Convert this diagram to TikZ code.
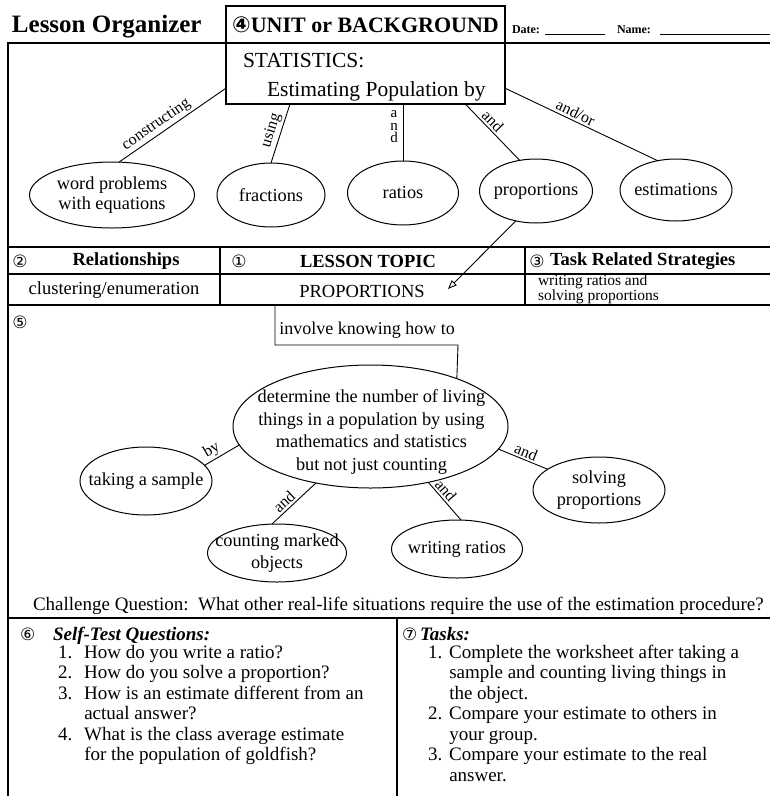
\documentclass[tikz,border=0pt]{standalone}
\usepackage{fontspec}
\setmainfont{Liberation Serif}
\newfontfamily\symf{DejaVu Sans}
\usetikzlibrary{shapes.geometric,arrows.meta}
\newcommand\circd[1]{{\symf #1}}
\begin{document}
\begin{tikzpicture}[x=1pt,y=1pt,
  every node/.style={inner sep=0pt, outer sep=0pt},
  frame/.style={line width=2pt},
  gridline/.style={line width=1.4pt},
  conn/.style={line width=0.9pt},
  ovalshape/.style={draw, ellipse, line width=1pt, inner sep=0pt},
  ovaltext/.style={align=center, font=\fontsize{18.3}{20}\selectfont},
  lab/.style={font=\fontsize{16}{16}\selectfont, sloped, above, inner sep=2.5pt},
  body/.style={font=\fontsize{19}{21}\selectfont},
  head/.style={font=\bfseries\fontsize{18.5}{21}\selectfont},
  unitbox/.style={draw, line width=2.2pt, fill=white, minimum width=279pt},
  digit/.style={font=\fontsize{17}{18}\selectfont},
]
\useasboundingbox (0,0) rectangle (770,-796);

% ---------- header line ----------
\node[anchor=base west, font=\bfseries\fontsize{25}{27}\selectfont] (title) at (12,-32) {Lesson Organizer};
\node[anchor=base west, font=\bfseries\fontsize{12}{13}\selectfont] (datel) at (512,-33) {Date:};
\node[anchor=base west, font=\bfseries\fontsize{12}{13}\selectfont] (namel) at (617,-33) {Name:};
\draw[line width=0.6pt] (545,-34) -- (605,-34);
\draw[line width=0.6pt] (660,-34) -- (770,-34);

% ---------- frame ----------
\draw[frame] (770,-43) -- (8,-43) -- (8,-796);
\draw[gridline] (8,-247) -- (770,-247);
\draw[gridline] (8,-274) -- (770,-274);
\draw[gridline] (8,-305) -- (770,-305);
\draw[gridline] (220,-247) -- (220,-305);
\draw[gridline] (525,-247) -- (525,-305);
\draw[gridline] (8,-618) -- (770,-618);
\draw[gridline] (397,-618) -- (397,-796);

% ---------- unit box ----------
\node[unitbox, minimum height=37pt, font=\bfseries\fontsize{22}{24}\selectfont] (unithead) at (365.5,-24.5) {\circd{④}UNIT or BACKGROUND};
\node[unitbox, minimum height=61pt] (unit) at (365.5,-73.5) {};
\node[anchor=base west, font=\fontsize{21.5}{23}\selectfont] (stat) at (243,-67) {STATISTICS:};
\node[anchor=base west, font=\fontsize{21.5}{23}\selectfont] (estpop) at (267,-96) {Estimating Population by};

% ---------- top ovals ----------
\node[ovalshape, minimum width=165pt, minimum height=66pt] (wp) at (112,-195) {};
\node[ovaltext] (wpt) at (wp) {word problems\\with equations};
\node[ovalshape, minimum width=108pt, minimum height=64pt] (frac) at (271,-195) {};
\node[ovaltext] (fract) at (frac) {fractions};
\node[ovalshape, minimum width=111pt, minimum height=64pt] (rat) at (403,-193) {};
\node[ovaltext] (ratt) at (rat) {ratios};
\node[ovalshape, minimum width=113pt, minimum height=64pt] (prop) at (536,-191) {};
\node[ovaltext] (propt) at (prop) {proportions};
\node[ovalshape, minimum width=112pt, minimum height=62pt] (est) at (676,-190) {};
\node[ovaltext] (estt) at (est) {estimations};

\draw[conn] (wp.78) -- node[lab, pos=0.4] {constructing} (unit.186);
\draw[conn] (frac.north) -- node[lab, pos=0.5] {using} (unit.202);
\draw[conn] (unit.south -| rat.north) -- (rat.north);
\node[align=center, font=\fontsize{15}{12.5}\selectfont] (andv) at (394,-127) {a\\n\\d};
\draw[conn] (unit.343) -- node[lab, pos=0.4] {and} (prop.118);
\draw[conn] (unit.354) -- node[lab, pos=0.44] {and/or} (est.122);

% arrow to lesson topic
\coordinate (arrend) at (448,-289);
\draw[conn, -{Triangle[open, length=9pt, width=7pt]}] (prop.236) -- (arrend);

% ---------- table text ----------
\node[digit] (n2) at (20,-261) {\circd{②}};
\node[head] (rel) at (126,-261) {Relationships};
\node[digit] (n1) at (239,-261) {\circd{①}};
\node[head] (lt) at (368,-261) {LESSON TOPIC};
\node[digit] (n3) at (537,-261) {\circd{③}};
\node[head, anchor=west] (trs) at (550,-261) {Task Related Strategies};
\node[font=\fontsize{18.5}{20}\selectfont] (clus) at (114,-290) {clustering/enumeration};
\node[font=\fontsize{18.5}{20}\selectfont] (proptopic) at (362,-291) {PROPORTIONS};
\node[align=left, anchor=west, font=\fontsize{15.5}{13.5}\selectfont] (wrs) at (538,-289) {writing ratios and\\solving proportions};

% ---------- central map ----------
\node[digit] (n5) at (20,-322) {\circd{⑤}};
\node[font=\fontsize{18}{19}\selectfont] (ikh) at (367,-330) {involve knowing how to};
\node[ovalshape, minimum width=275pt, minimum height=123pt] (ce) at (370.5,-426.5) {};
\node[ovaltext, font=\fontsize{18.3}{22.8}\selectfont] (cet) at (371.5,-432)
  {determine the number of living\\things in a population by using\\mathematics and statistics\\but not just counting};
\coordinate (ikA) at (275,-305);
\coordinate (ikB) at (458,-345);
\draw[conn] (ikA) |- (ikB) -- (ce.29.5);

\node[ovalshape, minimum width=132pt, minimum height=68pt] (samp) at (146,-481) {};
\node[ovaltext] (sampt) at (samp) {taking a sample};
\node[ovalshape, minimum width=139pt, minimum height=58pt] (cnt) at (277,-553) {};
\node[ovaltext, font=\fontsize{18.3}{22}\selectfont] (cntt) at (cnt) {counting marked\\objects};
\node[ovalshape, minimum width=131pt, minimum height=58pt] (wr) at (457,-549) {};
\node[ovaltext] (wrt) at (wr) {writing ratios};
\node[ovalshape, minimum width=132pt, minimum height=66pt] (solv) at (599,-490) {};
\node[ovaltext, font=\fontsize{18.3}{22}\selectfont] (solvt) at (solv) {solving\\proportions};

\draw[conn] (samp.15) -- node[lab, pos=0.35] {by} (ce.188);
\draw[conn] (cnt.100) -- node[lab, pos=0.4] {and} (ce.226);
\draw[conn] (ce.316) -- node[lab, pos=0.35] {and} (wr.82);
\draw[conn] (ce.350) -- node[lab, pos=0.5] {and} (solv.158);

\node[anchor=base west, body] (chal) at (33,-610) {Challenge Question:\ \ What other real-life situations require the use of the estimation procedure?};

% ---------- bottom lists ----------
\node[anchor=base west, digit] (n6) at (20,-640) {\circd{⑥}};
\node[anchor=base west, font=\bfseries\itshape\fontsize{19}{21}\selectfont] (stq) at (53,-640) {Self-Test Questions:};
\node[anchor=base west, font=\fontsize{19}{20.5}\selectfont] (stlist) at (58,-658) {%
\begin{tabular}[t]{@{}r@{\hspace{12pt}}l@{}}
1. & How do you write a ratio?\\
2. & How do you solve a proportion?\\
3. & How is an estimate different from an\\
   & actual answer?\\
4. & What is the class average estimate\\
   & for the population of goldfish?
\end{tabular}};

\node[anchor=base west, digit] (n7) at (402,-640) {\circd{⑦}};
\node[anchor=base west, font=\bfseries\itshape\fontsize{19}{21}\selectfont] (tsk) at (420,-640) {Tasks:};
\node[anchor=base west, font=\fontsize{19}{20.5}\selectfont] (tlist) at (428,-658) {%
\begin{tabular}[t]{@{}r@{\hspace{7pt}}l@{}}
1. & Complete the worksheet after taking a\\
   & sample and counting living things in\\
   & the object.\\
2. & Compare your estimate to others in\\
   & your group.\\
3. & Compare your estimate to the real\\
   & answer.
\end{tabular}};
\end{tikzpicture}
\end{document}
